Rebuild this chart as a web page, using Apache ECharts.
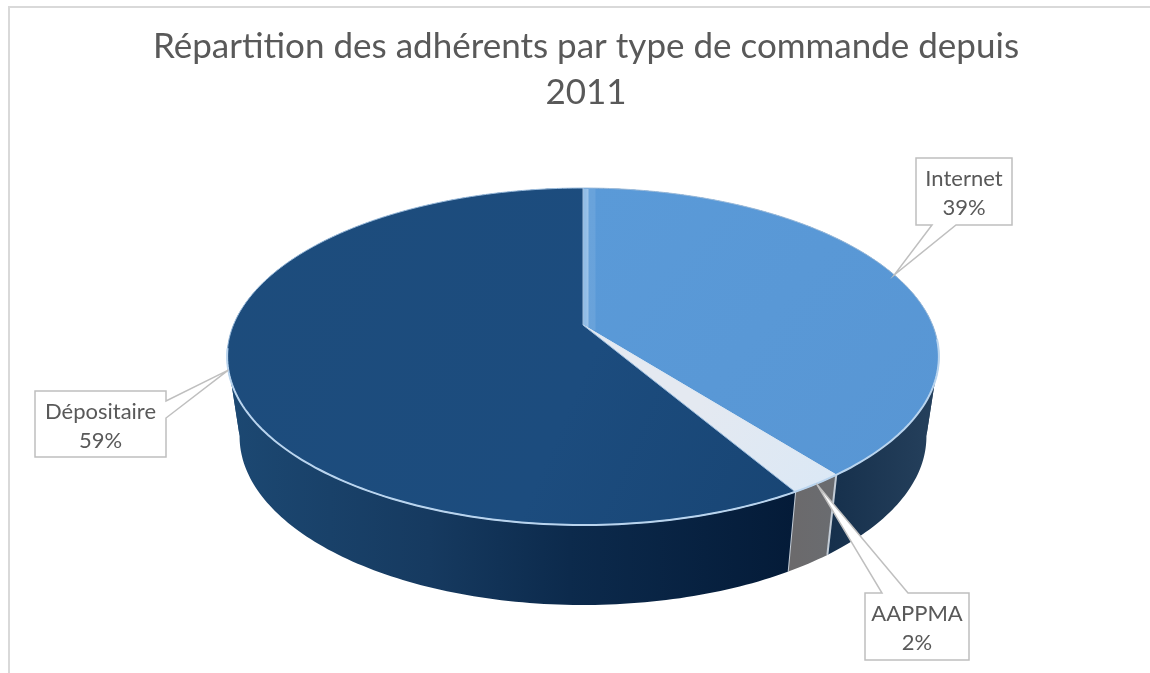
<!DOCTYPE html>
<html><head><meta charset="utf-8">
<style>html,body{margin:0;padding:0;background:#fff}#c{width:1150px;height:673px}</style>
<script src="https://cdn.jsdelivr.net/npm/echarts@6/dist/echarts.min.js"></script>
</head><body><div id="c"></div>
<script>
const titleText = 'Répartition des adhérents par type de commande depuis\n2011';
const categories = ['Internet', 'AAPPMA', 'Dépositaire'];
const shares = [39.4, 2.1, 58.5];

// Layout and styling of the tilted pie
const G = {cx: 583, cy: 325, rx: 349.6, ry: 162.6, k: 0.187, depth: 80, baseScale: 0.965, silhouette: [100.6, 259.4]};
const boxes = [
  {x: 916, y: 158, w: 96, h: 67, p: [[932, 225], [956, 225]]},
  {x: 865, y: 593, w: 104, h: 67, p: [[908, 593], [882, 593]]},
  {x: 35, y: 391, w: 131, h: 66, p: [[166, 418], [166, 401]]}
];
const G_ = (a, b, c, d, s) => new echarts.graphic.LinearGradient(a, b, c, d, s, true);
const topFill = [
  G_(583, 188, 930, 470, [{offset: 0, color: '#5a9ad8'}, {offset: 1, color: '#5896d4'}]),
  G_(700, 400, 830, 490, [{offset: 0, color: '#e4e9f1'}, {offset: 1, color: '#dbe8f5'}]),
  G_(228, 250, 800, 500, [{offset: 0, color: '#1d4c7c'}, {offset: 0.6, color: '#1c4c7e'}, {offset: 1, color: '#184574'}])
];
const wallFill = [
  G_(830, 0, 935, 0, [{offset: 0, color: '#16304c'}, {offset: 1, color: '#25405c'}]),
  G_(795, 0, 833, 0, [{offset: 0, color: '#6b6a6c'}, {offset: 1, color: '#6a6c70'}]),
  G_(232, 0, 795, 0, [{offset: 0, color: '#1c4872'}, {offset: 0.35, color: '#163a60'}, {offset: 0.6, color: '#0c2a4c'}, {offset: 1, color: '#041b38'}])
];

function project(deg) {
  const t = deg * Math.PI / 180, X = Math.sin(t), Y = -Math.cos(t), w = 1 / (1 - G.k * Y);
  return [G.cx + G.rx * X * w, G.cy + G.ry * Y * w];
}
function projectBase(deg) {
  const p = project(deg);
  return [G.cx + (p[0] - G.cx) * G.baseScale, p[1] + G.depth];
}
function arc(a, b, fn) {
  const pts = [], n = Math.max(2, Math.ceil(Math.abs(b - a)));
  for (let i = 0; i <= n; i++) pts.push((fn || project)(a + (b - a) * i / n));
  return pts;
}
const total = shares.reduce((a, b) => a + b, 0);
let acc = 0;
const spans = shares.map(v => { const s = acc / total * 360; acc += v; return [s, acc / total * 360]; });

function renderWall(params, api) {
  const i = api.value(0), [a, b] = spans[i];
  const cuts = [a].concat(G.silhouette.filter(s => s > a && s < b), [b]);
  const kids = [];
  for (let j = 0; j + 1 < cuts.length; j++) {
    const pts = arc(cuts[j], cuts[j + 1]).concat(arc(cuts[j], cuts[j + 1], projectBase).reverse());
    kids.push({type: 'polygon', shape: {points: pts}, style: {fill: wallFill[i]}});
  }
  if (i === 1) {
    [a, b].forEach(d => {
      const p = project(d), q = projectBase(d);
      kids.push({type: 'line', shape: {x1: p[0], y1: p[1], x2: q[0], y2: q[1]},
        style: {stroke: '#c3ccd6', lineWidth: 2}});
    });
  }
  return {type: 'group', children: kids};
}
function renderTop(params, api) {
  const i = api.value(0), [a, b] = spans[i];
  const pts = [[G.cx, G.cy]].concat(arc(a, b));
  const kids = [{type: 'polygon', shape: {points: pts}, style: {fill: topFill[i], stroke: i === 1 ? '#dfe9f4' : '#9fbfdf', lineWidth: 1}}];
  if (i === 0) {
    const e = project(a);
    kids.push({type: 'line', shape: {x1: G.cx + 8, y1: G.cy + 5, x2: e[0] + 8, y2: e[1] + 1},
      style: {stroke: 'rgba(210,228,245,0.12)', lineWidth: 9}});
    kids.push({type: 'line', shape: {x1: G.cx + 3, y1: G.cy + 2, x2: e[0] + 3, y2: e[1] + 1},
      style: {stroke: 'rgba(225,238,250,0.42)', lineWidth: 5}});
  }
  const f0 = Math.max(a, 95), f1 = Math.min(b, 262);
  if (f1 > f0) kids.push({type: 'polyline', shape: {points: arc(f0, f1)}, style: {stroke: '#b9d4ee', lineWidth: 2, fill: null}});
  return {type: 'group', children: kids};
}
function renderCallout(params, api) {
  const i = api.value(0), v = api.value(1), [a, b] = spans[i], B = boxes[i];
  const tip = project((a + b) / 2);
  const r = B.x + B.w, d = B.y + B.h;
  let pts;
  if (i === 0) pts = [[B.x, B.y], [r, B.y], [r, d], B.p[1], tip, B.p[0], [B.x, d]];
  else if (i === 1) pts = [[B.x, B.y], B.p[1], tip, B.p[0], [r, B.y], [r, d], [B.x, d]];
  else pts = [[B.x, B.y], [r, B.y], B.p[1], tip, B.p[0], [r, d], [B.x, d]];
  return {type: 'group', children: [
    {type: 'polygon', shape: {points: pts}, style: {fill: '#fff', stroke: '#bfbfbf', lineWidth: 1.5}},
    {type: 'text', x: B.x + B.w / 2, y: B.y + B.h / 2 + 2, style: {
      text: categories[i] + '\n' + Math.round(v / total * 100) + '%',
      font: '22px Lato', fill: '#595959', align: 'center', verticalAlign: 'middle', lineHeight: 29}}
  ]};
}
const rows = shares.map((v, i) => [i, v]);
const chart = echarts.init(document.getElementById('c'), null, {renderer: 'canvas'});
chart.setOption({
  animation: false,
  backgroundColor: '#fff',
  title: {text: titleText, left: 581, top: 19, textAlign: 'center',
    textStyle: {fontFamily: 'Lato', fontWeight: 'normal', fontSize: 35, lineHeight: 46, color: '#595959'}},
  graphic: [
    {type: 'polyline', silent: true, shape: {points: [[9, 673], [9, 7], [1150, 7]]}, style: {stroke: '#d9d9d9', lineWidth: 2, fill: null}}
  ],
  series: [
    {type: 'custom', coordinateSystem: 'none', renderItem: renderWall, data: rows, z: 2, silent: true},
    {type: 'custom', coordinateSystem: 'none', renderItem: renderTop, data: rows, z: 3, silent: true},
    {type: 'custom', coordinateSystem: 'none', renderItem: renderCallout, data: rows, z: 4, silent: true}
  ]
});
</script></body></html>
